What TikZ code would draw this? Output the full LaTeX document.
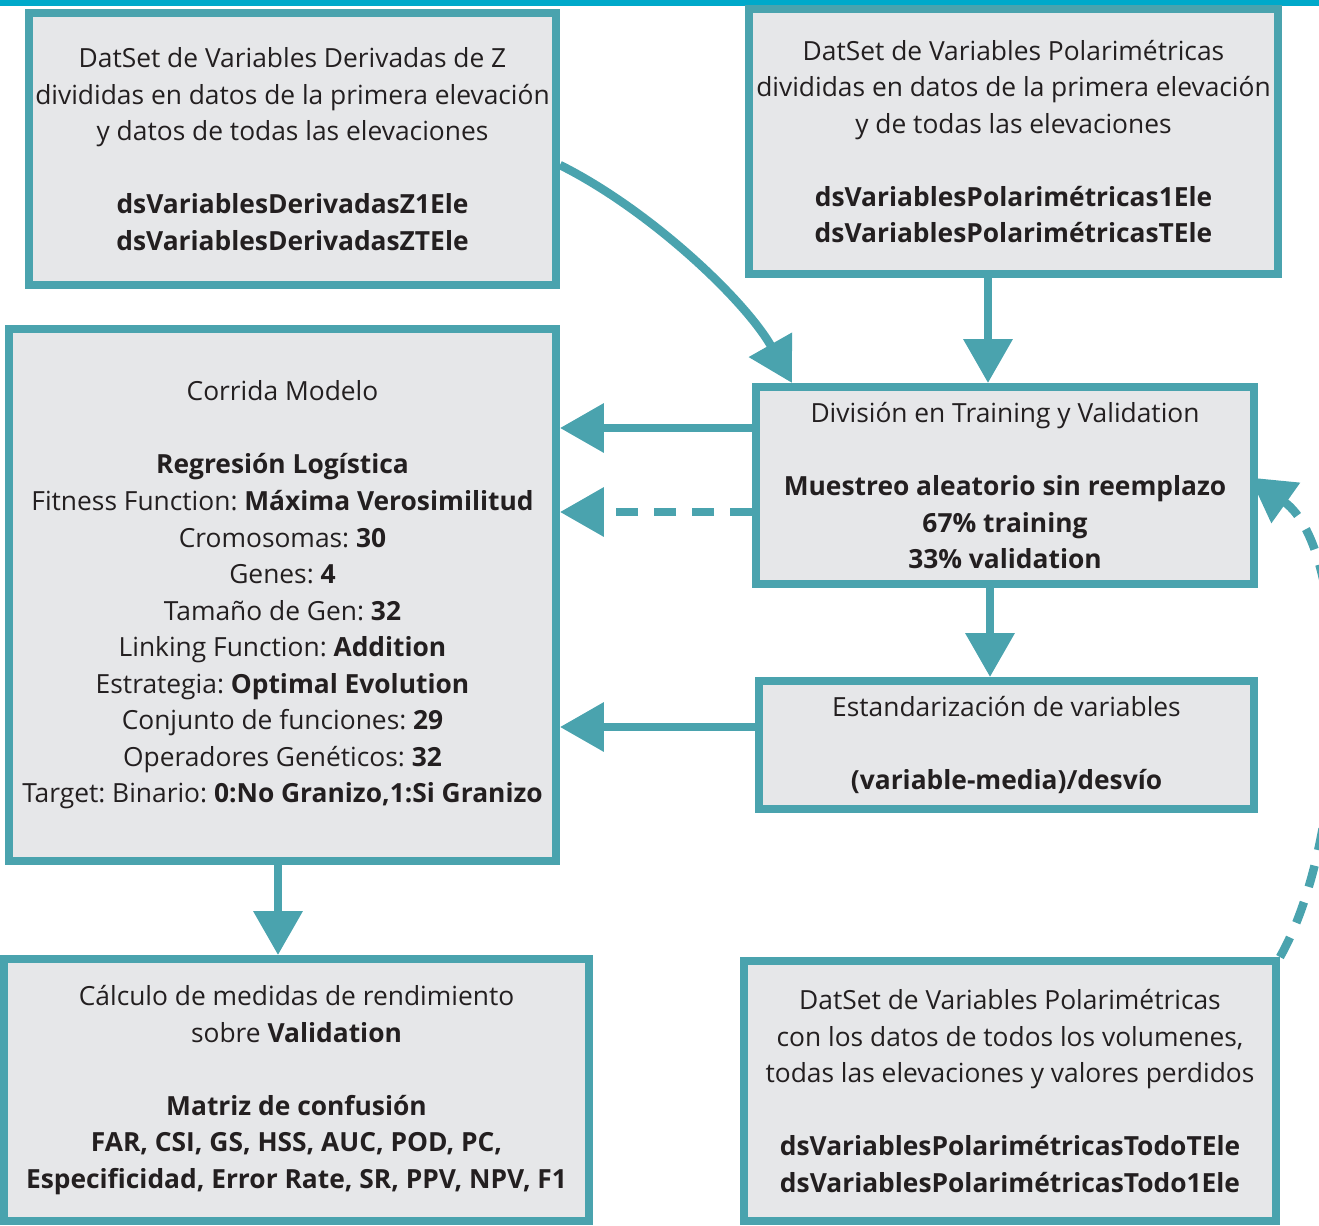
\documentclass[tikz,border=0pt]{standalone}
\usepackage{fontspec}
\setmainfont{Open Sans}
\frenchspacing
\usetikzlibrary{arrows.meta,calc}
\definecolor{tealline}{HTML}{4AA3AE}
\definecolor{boxfill}{HTML}{E6E7E9}
\definecolor{topbar}{HTML}{00A9CA}
\definecolor{inktext}{HTML}{231F20}

\begin{document}
\begin{tikzpicture}[
    x=0.02cm, y=-0.02cm,
    % 定义节点样式:复用性更强
    caja/.style={rectangle, draw=tealline, fill=boxfill, line width=0.16cm, inner sep=0pt, align=center, text=inktext, font=\fontsize{15}{20.8}\selectfont},
    flecha/.style={draw=tealline, line width=0.17cm, -{Triangle[width=0.95cm, length=0.88cm]}},
    punteada/.style={flecha, dash pattern=on 0.44cm off 0.32cm}
]
    % 画布范围与顶部色条
    \clip (0,0) rectangle (1319,1225);
    \fill [topbar] (0,0) rectangle (1319,6);

    % 数据集与流程节点
    \node [caja, minimum width=10.54cm, minimum height=5.44cm] (dz) at (292.5,149) {DatSet de Variables Derivadas de Z\\ divididas en datos de la primera elevación\\ y datos de todas las elevaciones\\[20.8pt] \textbf{dsVariablesDerivadasZ1Ele}\\ \textbf{dsVariablesDerivadasZTEle}};
    \node [caja, minimum width=10.58cm, minimum height=5.30cm] (dp) at (1013.5,141.5) {DatSet de Variables Polarimétricas\\ divididas en datos de la primera elevación\\ y de todas las elevaciones\\[20.8pt] \textbf{dsVariablesPolarimétricas1Ele}\\ \textbf{dsVariablesPolarimétricasTEle}};
    \node [caja, minimum width=10.94cm, minimum height=10.64cm] (cm) at (282.5,595) {Corrida Modelo\\[20.8pt] \textbf{Regresión Logística}\\ Fitness Function: \textbf{Máxima Verosimilitud}\\ Cromosomas: \textbf{30}\\ Genes: \textbf{4}\\ Tamaño de Gen: \textbf{32}\\ Linking Function: \textbf{Addition}\\ Estrategia: \textbf{Optimal Evolution}\\ Conjunto de funciones: \textbf{29}\\ Operadores Genéticos: \textbf{32}\\ Target: Binario: \textbf{0:No Granizo,1:Si Granizo}};
    \node [caja, minimum width=9.96cm, minimum height=3.94cm] (dv) at (1005,485.5) {División en Training y Validation\\[20.8pt] \textbf{Muestreo aleatorio sin reemplazo}\\ \textbf{67\% training}\\ \textbf{33\% validation}};
    \node [caja, minimum width=9.90cm, minimum height=2.56cm] (es) at (1006.5,745) {Estandarización de variables\\[20.8pt] \textbf{(variable-media)/desvío}};
    \node [caja, minimum width=11.70cm, minimum height=5.24cm] (cr) at (296.5,1090) {Cálculo de medidas de rendimiento\\ sobre \textbf{Validation}\\[20.8pt] \textbf{Matriz de confusión}\\ \textbf{FAR, CSI, GS, HSS, AUC, POD, PC,}\\ \textbf{Especificidad, Error Rate, SR, PPV, NPV, F1}};
    \node [caja, minimum width=10.64cm, minimum height=5.20cm] (tv) at (1010,1091) {DatSet de Variables Polarimétricas\\ con los datos de todos los volumenes,\\ todas las elevaciones y valores perdidos\\[20.8pt] \textbf{dsVariablesPolarimétricasTodoTEle}\\ \textbf{dsVariablesPolarimétricasTodo1Ele}};

    % 连线位置
    \coordinate (xa) at (988,0);
    \coordinate (xb) at (990,0);
    \coordinate (xc) at (278,0);
    \coordinate (ya) at (0,428);
    \coordinate (yb) at (0,512);
    \coordinate (yc) at (0,727);

    % 连线
    \draw [flecha] ($(dz.east)+(0,16)$) .. controls (650,210) and (745,300) .. ($(dv.north west)+(40,0)$);
    \draw [flecha] (dp.south -| xa) -- (dv.north -| xa);
    \draw [flecha] (dv.west |- ya) -- (cm.east |- ya);
    \draw [punteada] (dv.west |- yb) -- (cm.east |- yb);
    \draw [flecha] (dv.south -| xb) -- (es.north -| xb);
    \draw [flecha] (es.west |- yc) -- (cm.east |- yc);
    \draw [flecha] (cm.south -| xc) -- (cr.north -| xc);
    \draw [punteada] (tv.north east) .. controls (1352,830) and (1352,550) .. ($(dv.east)+(-8,-8)$);
\end{tikzpicture}
\end{document}
